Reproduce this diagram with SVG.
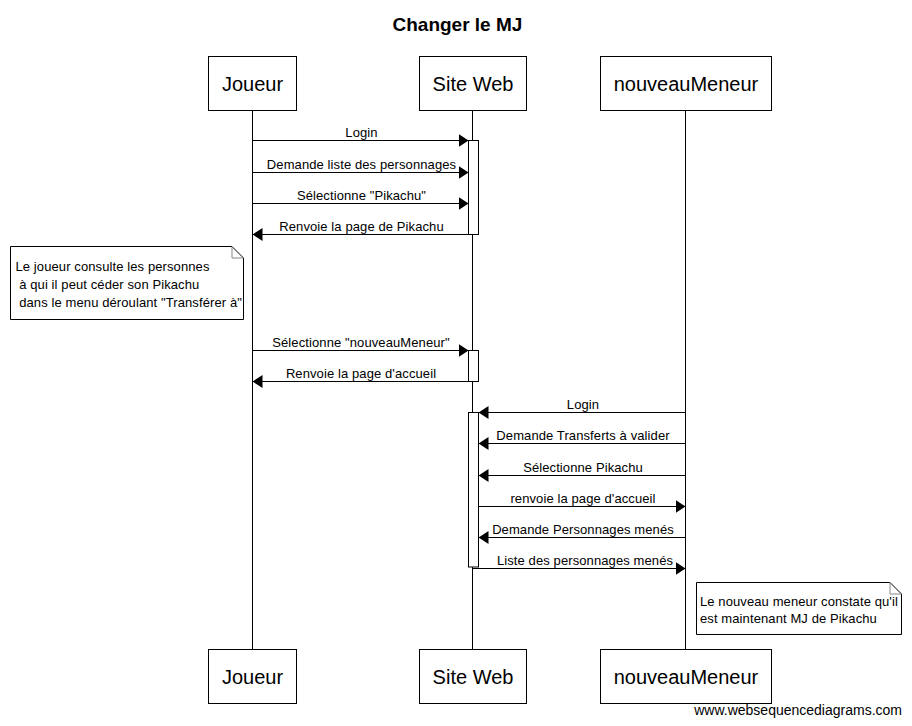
<svg xmlns="http://www.w3.org/2000/svg" width="912" height="726" viewBox="0 0 912 726">
<style>
  text { font-family: "Liberation Sans", Arial, sans-serif; fill: #000; }
  .title { font-size: 19px; font-weight: bold; }
  .part { font-size: 20px; text-anchor: middle; }
  .msg { font-size: 13px; text-anchor: middle; letter-spacing: 0.1px; }
  .note { font-size: 13px; letter-spacing: 0.1px; white-space: pre; }
  .box { fill: #fff; stroke: #000; stroke-width: 1; }
  .life { stroke: #000; stroke-width: 1; }
  .act { fill: #fff; stroke: #000; stroke-width: 1; }
  .arrow { stroke: #000; stroke-width: 1; fill: none; marker-end: url(#head); }
  .fold { fill: none; stroke: #888; stroke-width: 1; }
  .wm { font-size: 14px; text-anchor: end; }
</style>
<defs>
  <marker id="head" markerUnits="userSpaceOnUse" markerWidth="10" markerHeight="14" refX="10" refY="6.5" orient="auto" viewBox="0 0 10 13">
    <path d="M0,0 L10,6.5 L0,13 Z" fill="#000"/>
  </marker>
</defs>
<rect width="912" height="726" fill="#fff"/>
<text class="title" x="392.5" y="31">Changer le MJ</text>

<g id="lifelines">
  <line class="life" x1="252.5" y1="110" x2="252.5" y2="649"/>
  <line class="life" x1="472.5" y1="110" x2="472.5" y2="649"/>
  <line class="life" x1="685.5" y1="110" x2="685.5" y2="649"/>
</g>

<g id="joueur">
  <rect class="box" x="208.5" y="56.5" width="88" height="54"/>
  <text class="part" x="252.5" y="91">Joueur</text>
  <rect class="box" x="208.5" y="649.5" width="88" height="54"/>
  <text class="part" x="252.5" y="684">Joueur</text>
</g>
<g id="siteweb">
  <rect class="box" x="419.5" y="56.5" width="107" height="54"/>
  <text class="part" x="473" y="91">Site Web</text>
  <rect class="box" x="419.5" y="649.5" width="107" height="54"/>
  <text class="part" x="473" y="684">Site Web</text>
</g>
<g id="nouveauMeneur">
  <rect class="box" x="600.5" y="56.5" width="171" height="54"/>
  <text class="part" x="686" y="91">nouveauMeneur</text>
  <rect class="box" x="600.5" y="649.5" width="171" height="54"/>
  <text class="part" x="686" y="684">nouveauMeneur</text>
</g>

<g id="activations">
  <rect class="act" x="468.5" y="140.5" width="10" height="94"/>
  <rect class="act" x="468.5" y="350.5" width="10" height="31"/>
  <rect class="act" x="468.5" y="412.5" width="10" height="154.5"/>
</g>

<g id="connectors">
  <line class="arrow" x1="252.5" y1="140.5" x2="468.5" y2="140.5"/>
  <text class="msg" x="361.5" y="137">Login</text>
  <line class="arrow" x1="252.5" y1="172.5" x2="468.5" y2="172.5"/>
  <text class="msg" x="361.5" y="169">Demande liste des personnages</text>
  <line class="arrow" x1="252.5" y1="203.5" x2="468.5" y2="203.5"/>
  <text class="msg" x="361.5" y="200">Sélectionne "Pikachu"</text>
  <line class="arrow" x1="468.5" y1="234.5" x2="252.5" y2="234.5"/>
  <text class="msg" x="361.5" y="231">Renvoie la page de Pikachu</text>
  <line class="arrow" x1="252.5" y1="350.5" x2="468.5" y2="350.5"/>
  <text class="msg" x="361" y="347">Sélectionne "nouveauMeneur"</text>
  <line class="arrow" x1="468.5" y1="381.5" x2="252.5" y2="381.5"/>
  <text class="msg" x="361" y="378">Renvoie la page d'accueil</text>
  <line class="arrow" x1="685.5" y1="412.5" x2="478.5" y2="412.5"/>
  <text class="msg" x="583" y="409">Login</text>
  <line class="arrow" x1="685.5" y1="443.5" x2="478.5" y2="443.5"/>
  <text class="msg" x="583" y="440">Demande Transferts à valider</text>
  <line class="arrow" x1="685.5" y1="475.5" x2="478.5" y2="475.5"/>
  <text class="msg" x="583" y="472">Sélectionne Pikachu</text>
  <line class="arrow" x1="478.5" y1="506.5" x2="685.5" y2="506.5"/>
  <text class="msg" x="583" y="503">renvoie la page d'accueil</text>
  <line class="arrow" x1="685.5" y1="537.5" x2="478.5" y2="537.5"/>
  <text class="msg" x="583" y="534">Demande Personnages menés</text>
  <line class="arrow" x1="472.5" y1="568.5" x2="685.5" y2="568.5"/>
  <text class="msg" x="585" y="565">Liste des personnages menés</text>
</g>

<g id="note1">
  <path class="box" d="M10.5,246.5 H232 L243.5,258 V319.5 H10.5 Z"/>
  <path class="fold" d="M232,246.5 V258 H243.5"/>
  <text class="note" x="15.5" y="271">Le joueur consulte les personnes</text>
  <text class="note" x="15.5" y="289"> à qui il peut céder son Pikachu</text>
  <text class="note" x="15.5" y="307"> dans le menu déroulant "Transférer à"</text>
</g>

<g id="note2">
  <path class="box" d="M696.5,582.5 H890 L901.5,594 V634.5 H696.5 Z"/>
  <path class="fold" d="M890,582.5 V594 H901.5"/>
  <text class="note" x="700" y="606">Le nouveau meneur constate qu'il</text>
  <text class="note" x="700" y="623">est maintenant MJ de Pikachu</text>
</g>

<text class="wm" x="902" y="715">www.websequencediagrams.com</text>
</svg>
